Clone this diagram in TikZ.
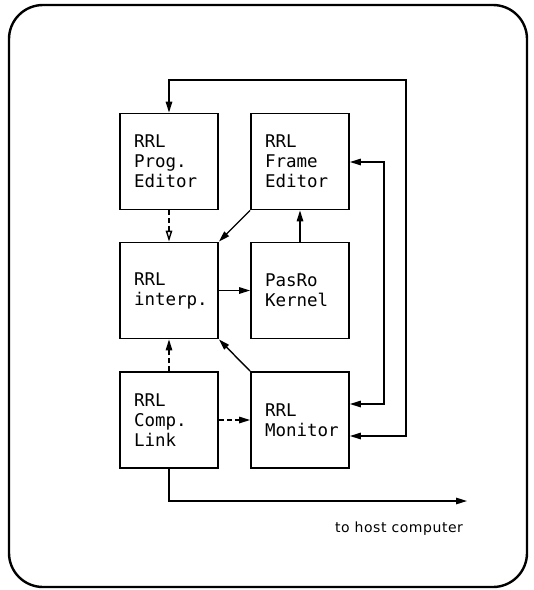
\documentclass[tikz,border=0pt]{standalone}
\usepackage{fontspec}
\setmainfont{DejaVu Sans}
\newfontfamily\boxfont{DejaVu Sans Mono}
\newfontfamily\notefont[LetterSpace=4]{DejaVu Sans}
\usetikzlibrary{arrows.meta}

\begin{document}
\begin{tikzpicture}[x=1pt,y=-1pt,
  unit/.style={draw, line width=1.8pt, minimum width=98pt, minimum height=96pt,
    text width=70pt, inner xsep=14pt, align=left,
    font={\boxfont\fontsize{17.5pt}{20pt}\selectfont}},
  tip/.style={Triangle[length=11pt,width=6.5pt]},
  link/.style={line width=1.4pt, -{Triangle[length=11pt,width=6.5pt]}},
  twoway/.style={line width=1.4pt, {Triangle[length=11pt,width=6.5pt]}-{Triangle[length=11pt,width=6.5pt]}},
  broken/.style={dash pattern=on 5pt off 3pt},
  openhead/.style={line width=1.4pt, -{Triangle[open,length=11pt,width=6.5pt]}},
  note/.style={font={\notefont\fontsize{14pt}{16pt}\selectfont}}
]
\useasboundingbox (0,0) rectangle (534,590);

% outer frame
\draw[line width=2.4pt, rounded corners=34pt] (9,5) rectangle (527,587);

% functional units
\node[unit] (prog)  at (169,161.5) {RRL\\Prog.\\Editor};
\node[unit] (frame) at (300,161.5) {RRL\\Frame\\Editor};
\node[unit] (interp) at (169,290.5) {RRL\\interp.};
\node[unit] (pasro) at (300,290.5) {PasRo\\Kernel};
\node[unit] (comp)  at (169,420) {RRL\\Comp.\\Link};
\node[unit] (mon)   at (300,420) {RRL\\Monitor};

% routing points of the feedback loops
\coordinate (outerA) at (406,436);
\coordinate (outerB) at (406,80);
\coordinate (outerC) at (169,80);
\coordinate (innerA) at (384,162);
\coordinate (innerB) at (384,404);
\coordinate (hostA) at (169,501);
\coordinate (host) at (467,501);

% outer loop: monitor <-> program editor
\draw[twoway] (prog.north) -- (outerC) -- (outerB) -- (outerA) -- (mon.east |- outerA);
% inner loop: frame editor <-> monitor
\draw[twoway] (frame.east |- innerA) -- (innerA) -- (innerB) -- (mon.east |- innerB);

% internal connections
\draw[openhead, broken] (prog.south) -- (interp.north);
\draw[link] (frame.south west) -- (interp.north east);
\draw[link] (pasro.north) -- (frame.south);
\draw[link] (interp.east) -- (pasro.west);
\draw[link] (mon.north west) -- (interp.south east);
\draw[link, broken] (comp.north) -- (interp.south);
\draw[link, broken] (comp.east) -- (mon.west);

% link to host
\draw[link] (comp.south) -- (hostA) -- (host);
\node[note] (hostlabel) at (399,529) {to host computer};
\end{tikzpicture}
\end{document}
